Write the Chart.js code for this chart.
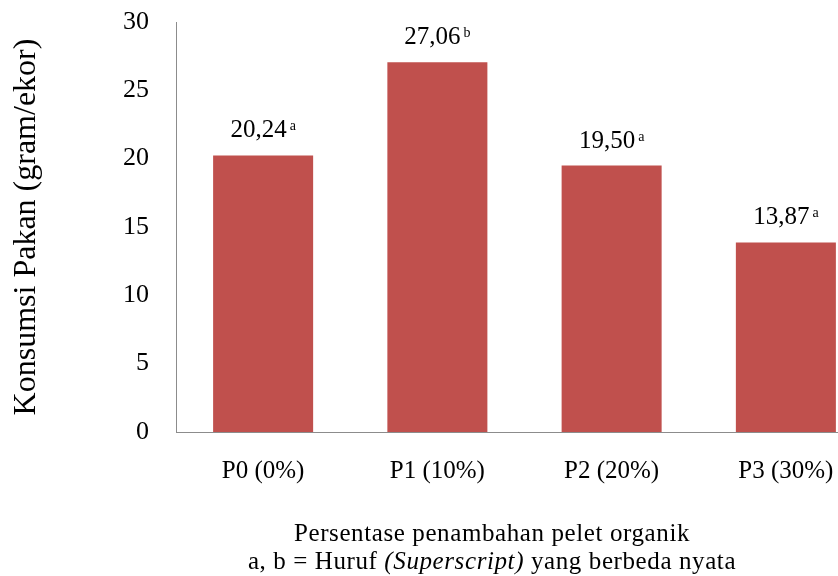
<!DOCTYPE html>
<html>
<head>
<meta charset="utf-8">
<script src="https://cdn.jsdelivr.net/npm/chart.js@4/dist/chart.umd.min.js"></script>
<style>
  html, body { margin: 0; padding: 0; background: #fff; overflow: hidden; width: 838px; height: 576px; }
  canvas { display: block; }
</style>
</head>
<body>
<canvas id="c" width="873" height="576" style="width:873px;height:576px"></canvas>
<script>
// Feed consumption per treatment
const categories = ['P0 (0%)', 'P1 (10%)', 'P2 (20%)', 'P3 (30%)'];
const consumption = [20.24, 27.06, 19.50, 13.87];
const significance = ['a', 'b', 'a', 'a'];
const yTickValues = [0, 5, 10, 15, 20, 25, 30];
const yTitle = 'Konsumsi Pakan (gram/ekor)';
const xTitleLine1 = 'Persentase penambahan pelet organik';
const xTitleLine2 = [
  { text: 'a, b = Huruf ', italic: false },
  { text: '(Superscript)', italic: true },
  { text: ' yang berbeda nyata', italic: false }
];

const SERIF = '"Liberation Serif", "Times New Roman", serif';
const BAR_COLOR = '#C0504D';

// Value labels above each bar, with the significance letter as superscript
const valueLabels = {
  id: 'valueLabels',
  afterDatasetsDraw(chart) {
    const ctx = chart.ctx;
    const meta = chart.getDatasetMeta(0);
    ctx.save();
    ctx.fillStyle = '#000';
    ctx.textBaseline = 'alphabetic';
    ctx.textAlign = 'left';
    meta.data.forEach((bar, i) => {
      const main = consumption[i].toFixed(2).replace('.', ',');
      const sup = significance[i];
      ctx.font = '25px ' + SERIF;
      const wMain = ctx.measureText(main).width;
      ctx.font = '14px ' + SERIF;
      const wSup = ctx.measureText(sup).width;
      const gap = 3;
      const total = wMain + gap + wSup;
      const x0 = bar.x - total / 2;
      const base = bar.y - 18;
      ctx.font = '25px ' + SERIF;
      ctx.fillText(main, x0, base);
      ctx.font = '14px ' + SERIF;
      ctx.fillText(sup, x0 + wMain + gap, base - 7);
    });
    ctx.restore();
  }
};

// Two-line x-axis caption, second line with an italic part
const xCaption = {
  id: 'xCaption',
  afterDraw(chart) {
    const ctx = chart.ctx;
    const cx = 492;
    ctx.save();
    ctx.fillStyle = '#000';
    ctx.textBaseline = 'alphabetic';
    ctx.textAlign = 'left';
    ctx.letterSpacing = '0.6px';
    ctx.font = '25px ' + SERIF;
    const w1 = ctx.measureText(xTitleLine1).width;
    ctx.fillText(xTitleLine1, cx - w1 / 2, 541);

    const fontFor = seg => (seg.italic ? 'italic ' : '') + '25px ' + SERIF;
    let total = 0;
    xTitleLine2.forEach(seg => { ctx.font = fontFor(seg); total += ctx.measureText(seg.text).width; });
    let x = cx - total / 2;
    xTitleLine2.forEach(seg => {
      ctx.font = fontFor(seg);
      ctx.fillText(seg.text, x, 569);
      x += ctx.measureText(seg.text).width;
    });
    ctx.restore();
  }
};

new Chart(document.getElementById('c'), {
  type: 'bar',
  data: {
    labels: categories,
    datasets: [{
      data: consumption,
      backgroundColor: BAR_COLOR,
      borderWidth: 0,
      categoryPercentage: 1.0,
      barPercentage: 0.574
    }]
  },
  options: {
    responsive: false,
    animation: false,
    devicePixelRatio: 1,
    layout: { padding: { top: 22, right: 0, bottom: 0, left: 0 } },
    plugins: {
      legend: { display: false },
      tooltip: { enabled: false }
    },
    scales: {
      x: {
        grid: { display: false, drawTicks: false },
        border: { display: true, color: '#8c8c8c', width: 1 },
        ticks: {
          color: '#000',
          padding: 24,
          maxRotation: 0,
          font: { family: SERIF, size: 25 }
        },
        afterFit(scale) { scale.height = 144; }
      },
      y: {
        min: 0,
        max: 30,
        afterBuildTicks(scale) { scale.ticks = yTickValues.map(v => ({ value: v })); },
        grid: { display: false, drawTicks: false },
        border: { display: true, color: '#8c8c8c', width: 1 },
        ticks: {
          color: '#000',
          padding: 27,
          font: { family: SERIF, size: 26 }
        },
        title: {
          display: true,
          text: yTitle,
          color: '#000',
          padding: { top: 7, bottom: 0 },
          font: { family: SERIF, size: 32 }
        },
        afterFit(scale) {
          scale.width = 176;
          scale.paddingTop = 0;
          scale.paddingBottom = 0;
        }
      }
    }
  },
  plugins: [valueLabels, xCaption]
});
</script>
</body>
</html>
